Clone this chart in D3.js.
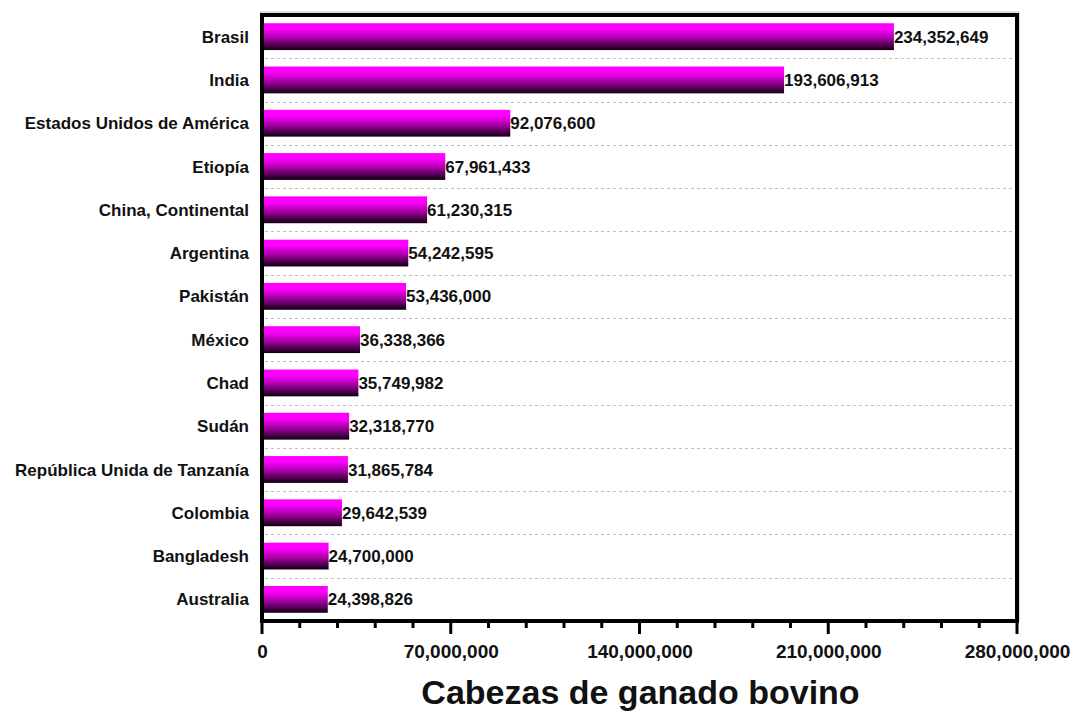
<!DOCTYPE html>
<html><head><meta charset="utf-8">
<script src="https://cdn.jsdelivr.net/npm/d3@7"></script>
<style>body{margin:0;background:#fff;}svg{display:block;font-family:"Liberation Sans",Arial,sans-serif;}</style>
</head><body>
<script>
const categories = ["Brasil","India","Estados Unidos de América","Etiopía","China, Continental","Argentina","Pakistán","México","Chad","Sudán","República Unida de Tanzanía","Colombia","Bangladesh","Australia"];
const values = [234352649,193606913,92076600,67961433,61230315,54242595,53436000,36338366,35749982,32318770,31865784,29642539,24700000,24398826];
const tickValues = [0,70000000,140000000,210000000,280000000];
const axisTitle = "Cabezas de ganado bovino";

const W=1074,H=715;
const L=262,R=1017,T=15,B=621;
const svg=d3.select("body").append("svg").attr("width",W).attr("height",H);
const defs=svg.append("defs");
const g=defs.append("linearGradient").attr("id","bg").attr("x1",0).attr("y1",0).attr("x2",0).attr("y2",1);
g.append("stop").attr("offset","0%").attr("stop-color","#ff00ff");
g.append("stop").attr("offset","22%").attr("stop-color","#ff00ff");
g.append("stop").attr("offset","60%").attr("stop-color","#9a009a");
g.append("stop").attr("offset","100%").attr("stop-color","#100010");

const x=d3.scaleLinear().domain([0,280000000]).range([L,R]);
const y=d3.scaleBand().domain(categories).range([T,B]).paddingInner(0.38).paddingOuter(0.19);

// gridlines between categories
const step=y.step();
categories.slice(0,-1).forEach((c,i)=>{
  const yy=Math.round(T+step*(i+1))+0.5;
  svg.append("line").attr("x1",L+3).attr("x2",R-2).attr("y1",yy).attr("y2",yy)
    .attr("stroke","#c0c0c0").attr("stroke-dasharray","3,3").attr("stroke-width",1);
});

// bars
svg.selectAll("rect.bar").data(categories).enter().append("rect")
  .attr("x",L).attr("y",d=>y(d)).attr("width",(d,i)=>x(values[i])-L).attr("height",y.bandwidth())
  .attr("fill","url(#bg)");

// value labels
svg.selectAll("text.val").data(categories).enter().append("text")
  .attr("x",(d,i)=>x(values[i])).attr("y",d=>y(d)+y.bandwidth()/2).attr("dy","0.36em")
  .attr("font-size",17).attr("font-weight","bold").attr("fill","#111")
  .text((d,i)=>d3.format(",")(values[i]));

// category labels
svg.selectAll("text.cat").data(categories).enter().append("text")
  .attr("x",249).attr("y",d=>y(d)+y.bandwidth()/2).attr("dy","0.36em")
  .attr("text-anchor","end").attr("font-size",17).attr("font-weight","bold").attr("fill","#111")
  .text(d=>d);

// frame shadow
svg.append("path").attr("d",`M${L-2},${T-3}H${R+2}V${B}`).attr("fill","none").attr("stroke","#bbb").attr("stroke-width",1);
// frame
svg.append("line").attr("x1",L).attr("x2",R+2).attr("y1",T).attr("y2",T).attr("stroke","#000").attr("stroke-width",4);
svg.append("line").attr("x1",R).attr("x2",R).attr("y1",T-2).attr("y2",B).attr("stroke","#000").attr("stroke-width",4);
svg.append("line").attr("x1",L).attr("x2",L).attr("y1",T-2).attr("y2",B).attr("stroke","#000").attr("stroke-width",4);

// x axis
const minor=d3.range(0,280000001,14000000);
svg.selectAll("line.minor").data(minor).enter().append("line")
  .attr("x1",d=>x(d)).attr("x2",d=>x(d)).attr("y1",B).attr("y2",d=>tickValues.includes(d)?B+13:B+7)
  .attr("stroke","#000").attr("stroke-width",3);
svg.append("line").attr("x1",L-2).attr("x2",R+2).attr("y1",B).attr("y2",B).attr("stroke","#000").attr("stroke-width",4);
const ax=svg.append("g").attr("transform",`translate(0,${B})`)
  .call(d3.axisBottom(x).tickValues(tickValues).tickFormat(d3.format(",")).tickSize(0).tickPadding(24));
ax.select(".domain").remove();
ax.selectAll("text").attr("font-size",19).attr("font-weight","bold").attr("fill","#111")
  .attr("font-family","'Liberation Sans',Arial,sans-serif");

svg.append("text").attr("x",(L+R)/2+1).attr("y",704).attr("text-anchor","middle")
  .attr("font-size",34).attr("font-weight","bold").attr("fill","#111").text(axisTitle);
</script>
</body></html>
